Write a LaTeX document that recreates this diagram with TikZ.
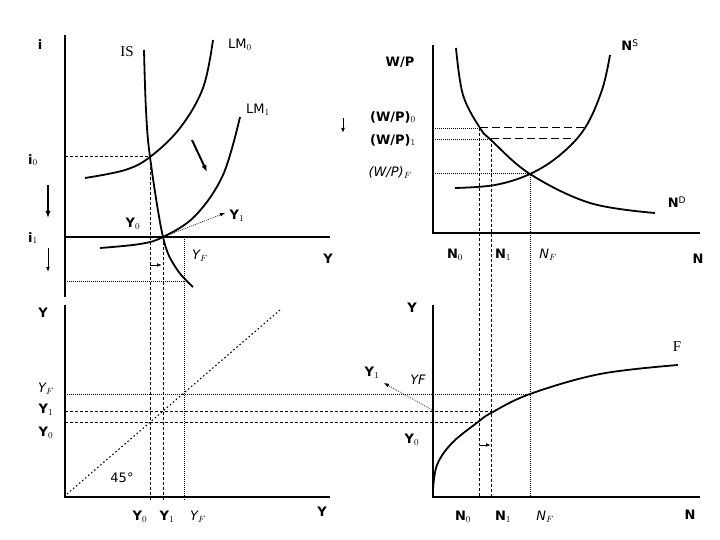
\documentclass[tikz,border=0pt]{standalone}
\usepackage{fontspec}
\setmainfont{DejaVu Sans}
\newfontfamily\serifx{Liberation Serif}
\usetikzlibrary{arrows.meta}
\begin{document}
\begin{tikzpicture}[x=1pt,y=-1pt,
  axis/.style={line width=2.2pt},
  curve/.style={line width=1.8pt},
  dsh/.style={line width=1pt,dash pattern=on 3pt off 2pt},
  ldsh/.style={line width=1pt,dash pattern=on 8pt off 4pt},
  dot/.style={line width=0.6pt,dash pattern=on 1pt off 1pt},
  ddot/.style={line width=1.1pt,dash pattern=on 1.5pt off 2.5pt},
  lb/.style={font=\bfseries\fontsize{13}{15}\selectfont,inner sep=1pt},
  li/.style={font=\itshape\fontsize{13}{15}\selectfont,inner sep=1pt},
  ls/.style={font=\serifx\fontsize{15}{17}\selectfont,inner sep=1pt}]
\useasboundingbox (0,0) rectangle (720,540);
% ---- axes
\draw[axis] (65,35) -- (65,297);
\draw[axis] (65,237) -- (330,237);
\draw[axis] (65,305) -- (65,497) -- (330,497);
\draw[axis] (433,45) -- (433,233) -- (700,233);
\draw[axis] (433,305) -- (433,497) -- (700,497);
% ---- guide lines
\draw[dsh] (65,157) -- (150,157);
\draw[dsh] (150,157) -- (150,500);
\draw[dsh] (163,237) -- (163,500);
\draw[dot] (184,237) -- (184,500);
\draw[dot] (65,281) -- (184,281);
\draw[dot] (433,128) -- (480,128); \draw[ldsh] (480,128) -- (585,128);
\draw[dot] (433,139) -- (491,139); \draw[ldsh] (491,139) -- (574,139);
\draw[dot] (433,173) -- (530,173);
\draw[dsh] (479,128) -- (479,497);
\draw[dsh] (491,139) -- (491,497);
\draw[dot] (530,173) -- (530,497);
\draw[dot] (65,394) -- (530,394);
\draw[dsh] (65,411) -- (491,411);
\draw[dsh] (65,422) -- (479,422);
\draw[ddot] (67,494) -- (280,310);
% ---- curves
\draw[curve] plot[smooth,tension=0.6] coordinates {(144,50) (146,110) (150,157) (163,237) (176,268) (193,287)};
\draw[curve] plot[smooth,tension=0.6] coordinates {(85,178) (125,170) (150,157) (180,128) (203,88) (213,40)};
\draw[curve] plot[smooth,tension=0.6] coordinates {(100,248) (140,244) (163,237) (195,216) (223,175) (240,117)};
\draw[curve] plot[smooth,tension=0.6] coordinates {(456,48) (463,95) (480,128) (491,140) (530,174) (590,203) (655,213)};
\draw[curve] plot[smooth,tension=0.6] coordinates {(455,188) (495,185) (530,174) (560,155) (585,128) (602,90) (610,55)};
\draw[curve] plot[smooth,tension=0.6] coordinates {(433,490) (437,465) (452,443) (478,422) (491,413) (530,394) (600,374) (678,365)};
% ---- arrows
\draw[line width=2pt,-{Latex[length=7pt]}] (192,140) -- (207,172);
\draw[line width=2pt,-{Latex[length=7pt]}] (48,185) -- (48,218);
\draw[line width=1pt,-{Latex[length=5pt]}] (48,248) -- (48,272);
\draw[line width=1pt,-{Latex[length=5pt]}] (343,118) -- (343,133);
\draw[line width=1pt,-{Latex[length=5pt]}] (150,265) -- (162,265);
\draw[line width=1pt,-{Latex[length=5pt]}] (479,445) -- (491,445);
% ---- labels
\node[lb] (li) at (40,45) {i};
\node[ls] (lis) at (127,52) {IS};
\node[lb,font=\fontsize{13}{15}\selectfont] (llm0) at (240,45) {LM$_0$};
\node[lb,font=\fontsize{13}{15}\selectfont] (llm1) at (258,110) {LM$_1$};
\node[lb] (li0) at (33,160) {i$_0$};
\node[lb] (li1) at (33,238) {i$_1$};
\node[lb] (ly0a) at (133,224) {Y$_0$};
\node[lb] (ly1a) at (237,216) {Y$_1$};
\node[li] (lyfa) at (200,256) {Y$_F$};
\node[lb] (lya) at (328,259) {Y};
\draw[dot,-{Latex[length=5pt]}] (163,237) -- (225,213);
\node[lb] (lwp) at (400,62) {W/P};
\node[lb] (lns) at (630,45) {N$^{\mathrm{S}}$};
\node[lb] (lnd) at (677,202) {N$^{\mathrm{D}}$};
\node[lb] (lwp0) at (393,117) {(W/P)$_0$};
\node[lb] (lwp1) at (393,140) {(W/P)$_1$};
\node[li] (lwpf) at (390,173) {(W/P)$_F$};
\node[lb] (ln0a) at (455,255) {N$_0$};
\node[lb] (ln1a) at (503,255) {N$_1$};
\node[li] (lnfa) at (548,255) {N$_F$};
\node[lb] (lna) at (698,259) {N};
\node[lb] (lyb) at (43,313) {Y};
\node[li] (lyfb) at (46,389) {Y$_F$};
\node[lb] (ly1b) at (46,410) {Y$_1$};
\node[lb] (ly0b) at (46,433) {Y$_0$};
\node[inner sep=1pt,font=\fontsize{13}{15}\selectfont] (l45) at (122,478) {45°};
\node[lb] (ly0c) at (140,517) {Y$_0$};
\node[lb] (ly1c) at (167,517) {Y$_1$};
\node[li] (lyfc) at (198,517) {Y$_F$};
\node[lb] (lyc) at (322,512) {Y};
\node[lb] (lyd) at (412,308) {Y};
\node[ls] (lf) at (677,347) {F};
\node[lb] (ly1d) at (372,373) {Y$_1$};
\node[li] (lyfd) at (418,380) {YF};
\node[lb] (ly0d) at (412,440) {Y$_0$};
\draw[dot,-{Latex[length=5pt]}] (432,410) -- (384,383);
\node[lb] (ln0b) at (463,517) {N$_0$};
\node[lb] (ln1b) at (503,517) {N$_1$};
\node[li] (lnfb) at (545,517) {N$_F$};
\node[lb] (lnb) at (690,515) {N};
\end{tikzpicture}
\end{document}
